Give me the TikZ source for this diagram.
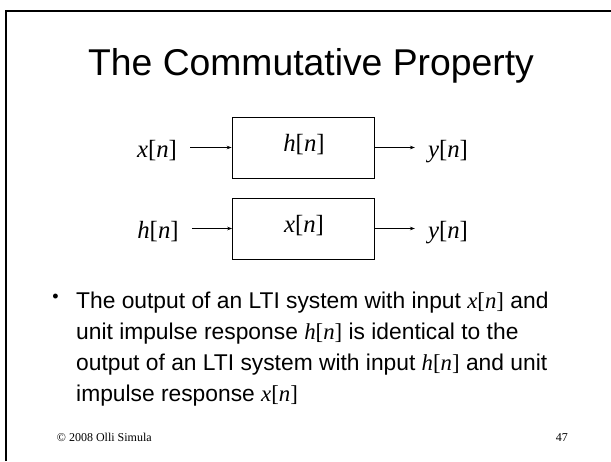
\documentclass[tikz,border=0pt]{standalone}
\usepackage{fontspec}
\setmainfont{Liberation Sans}
\newfontfamily\tms{Liberation Serif}
\usepackage{tikz}
\usetikzlibrary{arrows.meta, positioning}
\newcommand{\sig}[1]{{\tms\textit{#1}[\textit{n}]}}

\begin{document}
\begin{tikzpicture}[x=1pt, y=-1pt,
  sysbox/.style={draw, line width=0.8pt, minimum width=142pt, minimum height=61pt, inner sep=0pt},
  sigtext/.style={font=\fontsize{24.8}{30}\selectfont, inner xsep=13pt, inner ysep=0pt},
  flow/.style={-{Stealth[length=5pt, width=3.6pt]}, line width=0.7pt}]
\useasboundingbox (0,0) rectangle (611,461);
\draw[line width=2pt] (5.7,461) -- (5.7,11.3) -- (611,11.3);
\node[font=\fontsize{37.3}{44}\selectfont] (title) at (311,66) {The Commutative Property};
% first row
\node[sysbox] (sys1) at (303,147.5) {};
\node[sigtext] at (304,145) {\sig{h}};
\node[sigtext, anchor=base] (xin) at (157,157.5) {\sig{x}};
\node[sigtext, anchor=base] (yout1) at (448,157.5) {\sig{y}};
\draw[flow] (xin.east |- sys1) -- (sys1);
\draw[flow] (sys1) -- (yout1.west |- sys1);
% second row
\node[sysbox] (sys2) at (303.5,228.5) {};
\node[sigtext] at (304,226) {\sig{x}};
\node[sigtext, anchor=base] (hin) at (158,238.5) {\sig{h}};
\node[sigtext, anchor=base] (yout2) at (448,238.5) {\sig{y}};
\draw[flow] (hin.east |- sys2) -- (sys2);
\draw[flow] (sys2) -- (yout2.west |- sys2);
% bullet
\node[font=\fontsize{18}{20}\selectfont, inner sep=0pt] (dot) at (55.5,298) {•};
\node[font=\fontsize{22.8}{31}\selectfont, anchor=north west, inner sep=0pt, align=left] (desc) at (76,291.4)
  {The output of an LTI system with input \sig{x} and\\
   unit impulse response \sig{h} is identical to the\\
   output of an LTI system with input \sig{h} and unit\\
   impulse response \sig{x}};
\node[font=\tms\fontsize{12}{14}\selectfont, anchor=base west, inner sep=0pt] (copy) at (56.7,441.7) {© 2008 Olli Simula};
\node[font=\tms\fontsize{12}{14}\selectfont, anchor=base east, inner sep=0pt] (page) at (568,441.7) {47};
\end{tikzpicture}
\end{document}
